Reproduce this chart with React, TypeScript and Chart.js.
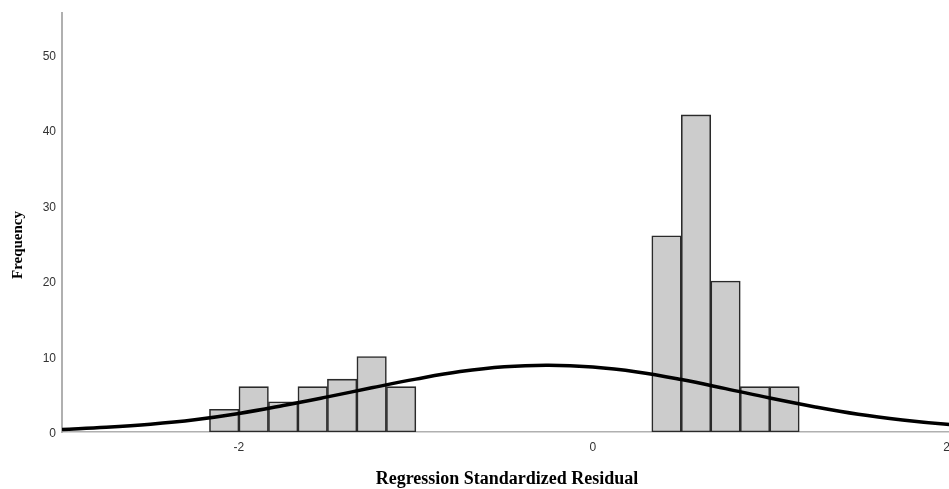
import React, { useEffect, useRef } from "react";
import { Chart, registerables } from "chart.js";

Chart.register(...registerables);

// Histogram bins (centres of bins of width 1/6) and their frequencies
const BIN_CENTERS = [-2.0833, -1.9167, -1.75, -1.5833, -1.4167, -1.25, -1.0833, 0.4167, 0.5833, 0.75, 0.9167, 1.0833];
const COUNTS = [3, 6, 4, 6, 7, 10, 6, 26, 42, 20, 6, 6];

// Normal curve
const CURVE_X = [-3, -2.75, -2.5, -2.25, -2, -1.75, -1.5, -1.25, -1, -0.75, -0.5, -0.25, 0, 0.25, 0.5, 0.75, 1, 1.25, 1.5, 1.75, 2, 2.25];
const CURVE_Y = [0.33, 0.62, 1.03, 1.62, 2.45, 3.5, 4.65, 5.85, 7.0, 8.0, 8.65, 8.85, 8.6, 7.95, 6.95, 5.75, 4.5, 3.35, 2.35, 1.6, 1.02, 0.62];

// Axes
const X_TICKS = [-2, 0, 2];
const Y_TICKS = [0, 10, 20, 30, 40, 50];
const X_MIN = -3;
const X_MAX = 2.03;
const Y_MIN = 0;
const Y_MAX = 55.5;

const X_TITLE = "Regression Standardized Residual";
const Y_TITLE = "Frequency";

const TITLE_FAMILY = '"Liberation Serif", "Times New Roman", serif';

// Draws the rotated y-axis title a little below the middle of the plot, as in the reference
const yTitlePlugin = {
  id: "yTitleLow",
  afterDraw(chart: any) {
    const ctx = chart.ctx as CanvasRenderingContext2D;
    ctx.save();
    ctx.translate(18, 245);
    ctx.rotate(-Math.PI / 2);
    ctx.font = `bold 15px ${TITLE_FAMILY}`;
    ctx.fillStyle = "#000000";
    ctx.textAlign = "center";
    ctx.textBaseline = "middle";
    ctx.fillText(Y_TITLE, 0, 0);
    ctx.restore();
  },
};

export default function App() {
  const ref = useRef<HTMLCanvasElement | null>(null);

  useEffect(() => {
    if (!ref.current) return;
    const tickFont = { family: '"Liberation Sans", Arial, sans-serif', size: 12 };
    const chart = new Chart(ref.current, {
      type: "bar",
      data: {
        datasets: [
          {
            type: "line",
            data: CURVE_X.map((x, i) => ({ x, y: CURVE_Y[i] })),
            borderColor: "#000000",
            borderWidth: 3.5,
            pointRadius: 0,
            tension: 0.4,
            fill: false,
            order: 0,
          } as any,
          {
            type: "bar",
            data: BIN_CENTERS.map((x, i) => ({ x, y: COUNTS[i] })),
            backgroundColor: "#cccccc",
            borderColor: "#2a2a2a",
            borderWidth: 1.6,
            borderSkipped: false,
            barPercentage: 1,
            categoryPercentage: 1,
            grouped: false,
            order: 1,
          } as any,
        ],
      },
      options: {
        animation: false,
        responsive: false,
        layout: { padding: { top: 13, left: 0, right: 0, bottom: 0 } },
        plugins: { legend: { display: false }, tooltip: { enabled: false } },
        scales: {
          x: {
            type: "linear",
            min: X_MIN,
            max: X_MAX,
            offset: false,
            grid: { display: false, drawTicks: false },
            border: { display: true, color: "#b0b0b0", width: 1.5 },
            afterBuildTicks: (s: any) => {
              s.ticks = X_TICKS.map((v) => ({ value: v }));
            },
            afterFit: (s: any) => {
              s.height = 57;
              s.paddingLeft = 0;
              s.paddingRight = 0;
            },
            ticks: { color: "#333333", font: tickFont, padding: 8, maxRotation: 0, autoSkip: false },
            title: {
              display: true,
              text: X_TITLE,
              color: "#000000",
              font: { family: TITLE_FAMILY, weight: "bold", size: 18, lineHeight: 1 },
              padding: { top: 0, bottom: 1 },
            },
          },
          y: {
            type: "linear",
            min: Y_MIN,
            max: Y_MAX,
            grid: { display: false, drawTicks: false },
            border: { display: true, color: "#b0b0b0", width: 2 },
            afterBuildTicks: (s: any) => {
              s.ticks = Y_TICKS.map((v) => ({ value: v }));
            },
            afterFit: (s: any) => {
              s.width = 62;
              s.paddingTop = 0;
              s.paddingBottom = 0;
            },
            ticks: { color: "#333333", font: tickFont, padding: 6, labelOffset: 2 },
            title: { display: false },
          },
        },
      },
      plugins: [yTitlePlugin],
    });
    return () => chart.destroy();
  }, []);

  return (
    <div style={{ position: "fixed", left: 0, top: 0, width: 949, height: 489, overflow: "hidden", background: "#ffffff" }}>
      <canvas ref={ref} width={952} height={489} style={{ width: 952, height: 489, display: "block" }} />
    </div>
  );
}
